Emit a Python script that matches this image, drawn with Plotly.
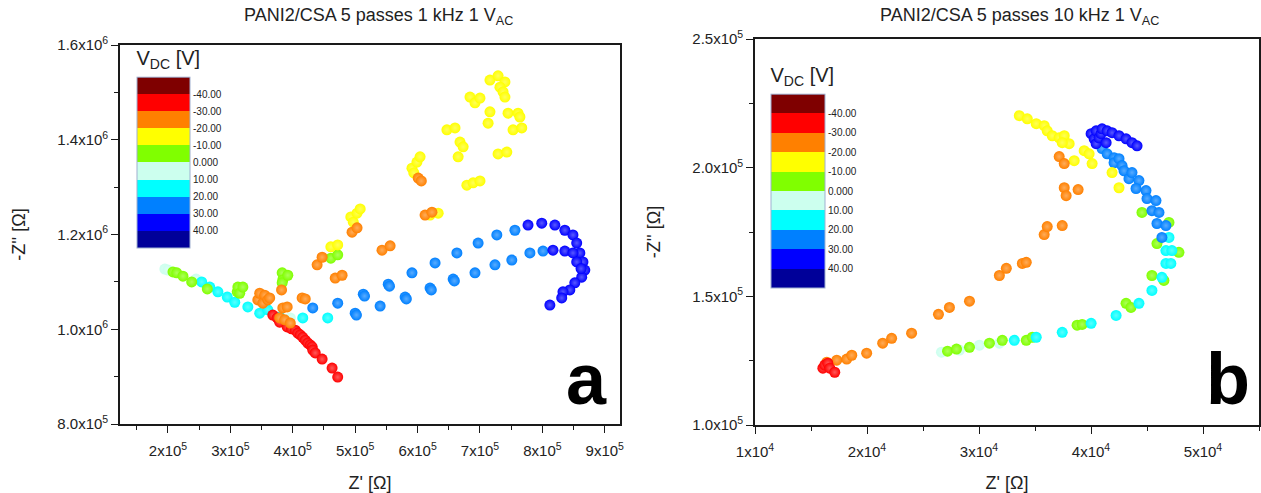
import plotly.graph_objects as go

W, H = 1261, 493

# ---------------- discrete V_DC colour scale (10 bands over -50..50 V) ----------------
BAND_COLOURS = ["#7F0000", "#FF0000", "#FF8000", "#FFFF00", "#80FF00",
                "#CCFFEE", "#00FFFF", "#0080FF", "#0000FF", "#000099"]
BAND_EDGES = [-50, -40, -30, -20, -10, 0, 10, 20, 30, 40, 50]
CBAR_TICKS = [-40, -30, -20, -10, 0, 10, 20, 30, 40]
CBAR_LABELS = ["-40.00", "-30.00", "-20.00", "-10.00", "0.000",
               "10.00", "20.00", "30.00", "40.00"]

# ---------------- panel a: 1 kHz, Z' / -Z'' in ohm, one pair per V_DC level ----------------
A_M35_ZRE = [3.68e5, 3.75e5, 3.79e5, 3.91e5, 3.98e5, 4.04e5, 4.08e5, 4.12e5, 4.16e5,
             4.20e5, 4.24e5, 4.28e5, 4.31e5, 4.32e5, 4.36e5, 4.47e5, 4.63e5, 4.72e5]
A_M35_ZIM = [1.030e6, 1.024e6, 1.015e6, 1.005e6, 1.001e6, 0.998e6, 0.992e6, 0.988e6, 0.983e6,
             0.977e6, 0.971e6, 0.967e6, 0.963e6, 0.956e6, 0.950e6, 0.937e6, 0.918e6, 0.899e6]

A_M25_ZRE = [3.44e5, 3.47e5, 3.52e5, 3.55e5, 3.60e5, 3.63e5, 3.82e5, 3.84e5, 3.91e5,
             3.79e5, 3.87e5, 3.96e5, 4.15e5, 4.20e5, 4.39e5, 4.47e5, 4.68e5, 4.79e5,
             4.95e5, 5.03e5, 5.43e5, 5.56e5, 6.12e5, 6.23e5, 6.01e5, 6.06e5]
A_M25_ZIM = [1.062e6, 1.076e6, 1.055e6, 1.072e6, 1.062e6, 1.066e6, 1.083e6, 1.045e6, 1.047e6,
             1.024e6, 1.020e6, 1.013e6, 1.066e6, 1.064e6, 1.136e6, 1.152e6, 1.108e6, 1.114e6,
             1.205e6, 1.214e6, 1.167e6, 1.176e6, 1.241e6, 1.247e6, 1.319e6, 1.313e6]

A_M15_ZRE = [4.61e5, 4.72e5, 4.93e5, 4.97e5, 5.03e5, 5.08e5, 5.91e5, 5.94e5, 5.99e5,
             6.04e5, 6.20e5, 6.33e5, 6.47e5, 6.60e5, 6.65e5, 6.68e5, 6.73e5, 6.79e5,
             6.89e5, 7.00e5, 6.84e5, 6.92e5, 7.00e5, 7.16e5, 7.29e5, 7.40e5, 7.32e5,
             7.37e5, 7.40e5, 7.16e5, 7.13e5, 7.45e5, 7.61e5, 7.64e5, 7.53e5, 7.67e5,
             7.29e5, 7.43e5]
A_M15_ZIM = [1.174e6, 1.178e6, 1.237e6, 1.226e6, 1.245e6, 1.254e6, 1.340e6, 1.330e6, 1.353e6,
             1.364e6, 1.241e6, 1.245e6, 1.421e6, 1.425e6, 1.364e6, 1.395e6, 1.385e6, 1.304e6,
             1.309e6, 1.313e6, 1.490e6, 1.478e6, 1.488e6, 1.526e6, 1.535e6, 1.522e6, 1.511e6,
             1.501e6, 1.490e6, 1.459e6, 1.435e6, 1.456e6, 1.456e6, 1.448e6, 1.421e6, 1.425e6,
             1.370e6, 1.374e6]

A_M5_ZRE = [2.08e5, 2.14e5, 2.24e5, 2.38e5, 2.63e5, 3.11e5, 3.12e5, 3.15e5, 3.20e5,
            3.83e5, 3.84e5, 3.83e5, 3.92e5, 4.61e5, 4.72e5]
A_M5_ZIM = [1.121e6, 1.119e6, 1.112e6, 1.100e6, 1.085e6, 1.079e6, 1.089e6, 1.076e6, 1.089e6,
            1.119e6, 1.104e6, 1.098e6, 1.114e6, 1.150e6, 1.157e6]

A_P5_ZRE = [1.95e5, 2.00e5, 2.45e5, 3.96e5]
A_P5_ZIM = [1.127e6, 1.125e6, 1.106e6, 1.024e6]

A_P15_ZRE = [2.54e5, 2.67e5, 2.80e5, 2.95e5, 3.07e5, 3.28e5, 3.47e5, 3.60e5, 3.79e5,
             4.16e5, 4.56e5]
A_P15_ZIM = [1.100e6, 1.089e6, 1.079e6, 1.068e6, 1.057e6, 1.047e6, 1.034e6, 1.041e6, 1.026e6,
             1.024e6, 1.024e6]

A_P25_ZRE = [4.32e5, 4.72e5, 5.13e5, 5.15e5, 5.53e5, 5.55e5, 5.91e5, 6.28e5, 6.63e5,
             6.97e5, 7.27e5, 7.56e5, 5.00e5, 5.02e5, 5.40e5, 5.80e5, 5.82e5, 6.20e5,
             6.22e5, 6.57e5, 6.59e5, 6.92e5, 7.24e5, 7.51e5, 7.80e5, 8.01e5]
A_P25_ZIM = [1.045e6, 1.055e6, 1.074e6, 1.070e6, 1.095e6, 1.091e6, 1.119e6, 1.140e6, 1.161e6,
             1.182e6, 1.199e6, 1.209e6, 1.034e6, 1.030e6, 1.049e6, 1.068e6, 1.064e6, 1.087e6,
             1.083e6, 1.106e6, 1.102e6, 1.119e6, 1.136e6, 1.146e6, 1.161e6, 1.165e6]

A_P35_ZRE = [7.77e5, 7.99e5, 8.20e5, 8.36e5, 8.49e5, 8.55e5, 8.60e5, 8.65e5, 8.68e5,
             8.63e5, 8.52e5, 8.44e5, 8.33e5, 8.31e5, 8.12e5, 8.17e5, 8.36e5, 8.49e5,
             8.55e5, 8.62e5]
A_P35_ZIM = [1.220e6, 1.224e6, 1.220e6, 1.209e6, 1.199e6, 1.182e6, 1.161e6, 1.142e6, 1.125e6,
             1.110e6, 1.098e6, 1.083e6, 1.079e6, 1.066e6, 1.051e6, 1.167e6, 1.165e6, 1.161e6,
             1.142e6, 1.128e6]

# ---------------- panel b: 10 kHz ----------------
B_M35_ZRE = [1.606e4, 1.623e4, 1.650e4, 1.668e4, 1.712e4]
B_M35_ZIM = [1.221e5, 1.233e5, 1.240e5, 1.221e5, 1.205e5]

B_M25_ZRE = [1.641e4, 1.730e4, 1.819e4, 1.864e4, 1.997e4, 2.140e4, 2.220e4, 2.398e4,
             2.638e4, 2.736e4, 2.915e4, 3.182e4, 3.244e4, 3.387e4, 3.422e4, 3.582e4,
             3.609e4, 3.743e4, 3.761e4, 3.778e4, 3.885e4, 3.716e4, 3.761e4]
B_M25_ZIM = [1.244e5, 1.252e5, 1.256e5, 1.271e5, 1.279e5, 1.318e5, 1.337e5, 1.357e5,
             1.430e5, 1.457e5, 1.481e5, 1.581e5, 1.609e5, 1.628e5, 1.632e5, 1.740e5,
             1.771e5, 1.775e5, 1.922e5, 1.891e5, 1.915e5, 2.043e5, 2.016e5]

B_M15_ZRE = [3.360e4, 3.431e4, 3.511e4, 3.582e4, 3.609e4, 3.654e4, 3.716e4, 3.761e4,
             3.805e4, 3.743e4, 3.939e4, 3.983e4, 3.850e4, 4.010e4, 4.188e4, 4.250e4]
B_M15_ZIM = [2.202e5, 2.190e5, 2.171e5, 2.163e5, 2.143e5, 2.124e5, 2.116e5, 2.124e5,
             2.093e5, 2.097e5, 2.066e5, 2.054e5, 2.027e5, 2.016e5, 1.981e5, 1.922e5]

B_M5_ZRE = [2.719e4, 2.799e4, 2.915e4, 3.093e4, 3.208e4, 3.422e4, 3.476e4, 3.876e4,
            3.921e4, 4.313e4, 4.357e4, 4.544e4, 4.651e4, 4.589e4, 4.785e4, 4.455e4, 4.696e4]
B_M5_ZIM = [1.287e5, 1.295e5, 1.302e5, 1.318e5, 1.329e5, 1.329e5, 1.341e5, 1.388e5,
            1.391e5, 1.473e5, 1.457e5, 1.581e5, 1.562e5, 1.705e5, 1.671e5, 1.826e5, 1.787e5]

B_P5_ZRE = [2.665e4, 2.826e4, 3.004e4, 3.182e4]
B_P5_ZIM = [1.283e5, 1.291e5, 1.310e5, 1.318e5]

B_P15_ZRE = [3.315e4, 3.511e4, 3.743e4, 4.001e4, 4.224e4, 4.428e4, 4.544e4, 4.633e4,
             4.669e4, 4.713e4, 4.669e4, 4.722e4, 4.696e4]
B_P15_ZIM = [1.329e5, 1.341e5, 1.360e5, 1.395e5, 1.426e5, 1.473e5, 1.523e5, 1.574e5,
             1.628e5, 1.628e5, 1.678e5, 1.678e5, 1.729e5]

B_P25_ZRE = [4.099e4, 4.144e4, 4.206e4, 4.206e4, 4.250e4, 4.277e4, 4.295e4, 4.339e4,
             4.366e4, 4.428e4, 4.402e4, 4.491e4, 4.500e4, 4.580e4, 4.544e4, 4.607e4,
             4.589e4, 4.669e4, 4.633e4]
B_P25_ZIM = [2.074e5, 2.054e5, 2.039e5, 2.019e5, 2.035e5, 2.008e5, 1.988e5, 1.957e5,
             1.981e5, 1.950e5, 1.919e5, 1.911e5, 1.880e5, 1.872e5, 1.833e5, 1.826e5,
             1.783e5, 1.775e5, 1.729e5]

B_P35_ZRE = [4.001e4, 4.028e4, 4.046e4, 4.046e4, 4.072e4, 4.090e4, 4.099e4, 4.135e4,
             4.144e4, 4.188e4, 4.250e4, 4.313e4, 4.366e4, 4.411e4]
B_P35_ZIM = [2.132e5, 2.112e5, 2.143e5, 2.093e5, 2.116e5, 2.132e5, 2.151e5, 2.097e5,
             2.143e5, 2.136e5, 2.124e5, 2.112e5, 2.097e5, 2.085e5]

# V_DC level of each series, in drawing order (later series sit on top)
PANEL_A = [(5, A_P5_ZRE, A_P5_ZIM), (15, A_P15_ZRE, A_P15_ZIM), (-5, A_M5_ZRE, A_M5_ZIM),
           (25, A_P25_ZRE, A_P25_ZIM), (35, A_P35_ZRE, A_P35_ZIM),
           (-15, A_M15_ZRE, A_M15_ZIM), (-35, A_M35_ZRE, A_M35_ZIM),
           (-25, A_M25_ZRE, A_M25_ZIM)]
PANEL_B = [(5, B_P5_ZRE, B_P5_ZIM), (-5, B_M5_ZRE, B_M5_ZIM), (15, B_P15_ZRE, B_P15_ZIM),
           (25, B_P25_ZRE, B_P25_ZIM), (35, B_P35_ZRE, B_P35_ZIM),
           (-15, B_M15_ZRE, B_M15_ZIM), (-25, B_M25_ZRE, B_M25_ZIM),
           (-35, B_M35_ZRE, B_M35_ZIM)]


def band_colour(v):
    for i in range(len(BAND_COLOURS)):
        if BAND_EDGES[i] <= v < BAND_EDGES[i + 1]:
            return BAND_COLOURS[i]
    return BAND_COLOURS[-1]


def tint(hex_colour, amount):
    r, g, b = (int(hex_colour[k:k + 2], 16) for k in (1, 3, 5))
    mix = lambda c: int(round(c + (255 - c) * amount))
    return "rgb(%d,%d,%d)" % (mix(r), mix(g), mix(b))


def discrete_scale(colours):
    scale = []
    n = len(colours)
    for i, c in enumerate(colours):
        scale.append([i / n, c])
        scale.append([(i + 1) / n, c])
    return scale


# The colour bar runs from -40 V at the top to +40 V at the bottom, so the colour
# axis carries -V_DC and its bands are listed from +50 V down to -50 V.
NEG_SCALE = discrete_scale(list(reversed(BAND_COLOURS)))
NEG_TICKS = [-t for t in CBAR_TICKS]

fig = go.Figure()

for panel, (xa, ya, cax) in ((PANEL_A, ("x", "y", "coloraxis")),
                             (PANEL_B, ("x2", "y2", "coloraxis2"))):
    for v, zre, zim in panel:
        fig.add_trace(go.Scatter(
            x=zre, y=zim, xaxis=xa, yaxis=ya, mode="markers",
            marker=dict(size=11, color=[-v] * len(zre), coloraxis=cax,
                        line=dict(width=0),
                        gradient=dict(type="radial", color=tint(band_colour(v), 0.35))),
            hoverinfo="skip", showlegend=False))

AX_COLOR = "#1a1a1a"
FAMILY = "Liberation Sans, Arial, sans-serif"
TICK_FONT = dict(family=FAMILY, size=15, color="#222")
TITLE_FONT = dict(family=FAMILY, size=18, color="#222")


def axis_style(**kw):
    d = dict(showline=True, linecolor=AX_COLOR, linewidth=1.6, mirror=True,
             ticks="outside", ticklen=7, tickwidth=1.4, tickcolor=AX_COLOR,
             showgrid=False, zeroline=False, tickfont=TICK_FONT,
             automargin=False, title_font=TITLE_FONT)
    d.update(kw)
    return d


A_XTICKS = [2e5, 3e5, 4e5, 5e5, 6e5, 7e5, 8e5, 9e5]
A_XLABELS = ["%dx10<sup>5</sup>" % k for k in range(2, 10)]
A_YTICKS = [8e5, 1.0e6, 1.2e6, 1.4e6, 1.6e6]
A_YLABELS = ["8.0x10<sup>5</sup>", "1.0x10<sup>6</sup>", "1.2x10<sup>6</sup>",
             "1.4x10<sup>6</sup>", "1.6x10<sup>6</sup>"]
B_XTICKS = [1e4, 2e4, 3e4, 4e4, 5e4]
B_XLABELS = ["%dx10<sup>4</sup>" % k for k in range(1, 6)]
B_YTICKS = [1.0e5, 1.5e5, 2.0e5, 2.5e5]
B_YLABELS = ["1.0x10<sup>5</sup>", "1.5x10<sup>5</sup>", "2.0x10<sup>5</sup>",
             "2.5x10<sup>5</sup>"]


def colorbar(x0, y0, length, thick):
    return dict(x=x0 / W, xanchor="left", y=1 - y0 / H, yanchor="top",
                len=length, lenmode="pixels", thickness=thick, thicknessmode="pixels",
                xpad=0, ypad=0, outlinewidth=1, outlinecolor="#9fb0d0",
                tickmode="array", tickvals=NEG_TICKS, ticktext=CBAR_LABELS,
                ticks="", ticklabelposition="outside",
                tickfont=dict(family=FAMILY, size=10, color="#222"),
                title=dict(text="V<sub>DC</sub> [V]", side="top",
                           font=dict(family=FAMILY, size=20, color="#222")))


fig.update_layout(
    width=W, height=H, margin=dict(l=0, r=0, t=0, b=0),
    paper_bgcolor="white", plot_bgcolor="white", showlegend=False,
    xaxis=axis_style(domain=[120 / W, 620 / W], range=[1.231e5, 9.244e5], anchor="y",
                     tickmode="array", tickvals=A_XTICKS, ticktext=A_XLABELS,
                     ticklabelstandoff=5,
                     minor=dict(dtick=5e4, tick0=0, ticklen=4, tickwidth=1.2,
                                tickcolor=AX_COLOR, ticks="outside"),
                     title=dict(text="Z' [Ω]", standoff=20)),
    yaxis=axis_style(domain=[1 - 424 / H, 1 - 45 / H], range=[8e5, 1.6e6], anchor="x",
                     tickmode="array", tickvals=A_YTICKS, ticktext=A_YLABELS,
                     minor=dict(dtick=1e5, tick0=0, ticklen=4, tickwidth=1.2,
                                tickcolor=AX_COLOR, ticks="outside"),
                     title=dict(text="-Z'' [Ω]", standoff=27)),
    xaxis2=axis_style(domain=[755 / W, 1259 / W], range=[1e4, 5.5e4], anchor="y2",
                      tickmode="array", tickvals=B_XTICKS, ticktext=B_XLABELS,
                      ticklabelstandoff=5,
                      minor=dict(dtick=5e3, tick0=0, ticklen=4, tickwidth=1.2,
                                 tickcolor=AX_COLOR, ticks="outside"),
                      title=dict(text="Z' [Ω]", standoff=20)),
    yaxis2=axis_style(domain=[1 - 425 / H, 1 - 39 / H], range=[1e5, 2.5e5], anchor="x2",
                      tickmode="array", tickvals=B_YTICKS, ticktext=B_YLABELS,
                      minor=dict(dtick=2.5e4, tick0=0, ticklen=4, tickwidth=1.2,
                                 tickcolor=AX_COLOR, ticks="outside"),
                      title=dict(text="-Z'' [Ω]", standoff=27)),
    coloraxis=dict(colorscale=NEG_SCALE, cmin=-50, cmax=50,
                   colorbar=colorbar(137, 47, 201, 53)),
    coloraxis2=dict(colorscale=NEG_SCALE, cmin=-50, cmax=50,
                    colorbar=colorbar(771, 64, 224, 54)),
)

# panel titles and panel letters
for cx, text in ((378, "PANI2/CSA 5 passes 1 kHz 1 V<sub>AC</sub>"),
                 (1019, "PANI2/CSA 5 passes 10 kHz 1 V<sub>AC</sub>")):
    fig.add_annotation(x=cx / W, y=1 - 16 / H, xref="paper", yref="paper",
                       text=text, showarrow=False, xanchor="center", yanchor="middle",
                       font=dict(family=FAMILY, size=18, color="#222"))

for rx, letter in ((609, "a"), (1252, "b")):
    fig.add_annotation(x=rx / W, y=1 - 379 / H, xref="paper", yref="paper",
                       text="<b>%s</b>" % letter, showarrow=False,
                       xanchor="right", yanchor="middle",
                       font=dict(family=FAMILY, size=72, color="#000"))

fig.write_html("out.html")
